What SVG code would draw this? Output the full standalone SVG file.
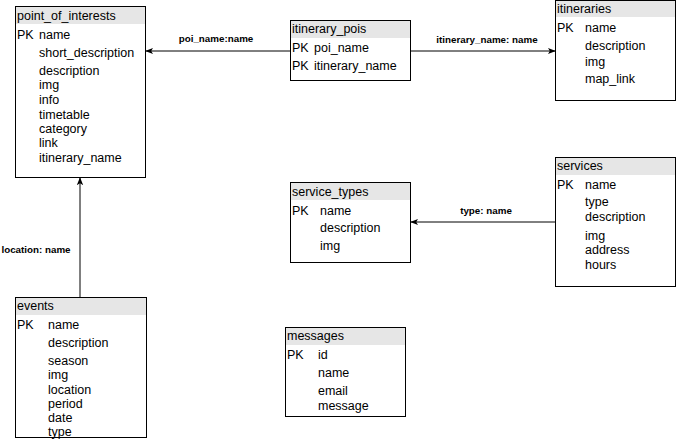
<svg xmlns="http://www.w3.org/2000/svg" width="676" height="448" viewBox="0 0 676 448">
  <style>
    text { font-family: "Liberation Sans", Arial, sans-serif; font-size: 12.5px; fill: #000; }
    .box { fill: #fff; stroke: #000; stroke-width: 1; }
    .head { fill: #e6e6e6; stroke: none; }
    .edge { fill: none; stroke: #000; stroke-width: 1; marker-end: url(#arrow); }
    .lbl { font-size: 9.8px; font-weight: bold; text-anchor: middle; }
  </style>
  <defs>
    <marker id="arrow" viewBox="0 0 10 10" refX="9" refY="5" markerWidth="8" markerHeight="8" markerUnits="userSpaceOnUse" orient="auto">
      <path d="M0,1 L10,5 L0,9 L2.5,5 Z" fill="#000"/>
    </marker>
  </defs>

  <g id="connectors">
    <path class="edge" d="M290,51 L146,51"/>
    <path class="edge" d="M411,51 L555,51"/>
    <path class="edge" d="M555,222 L411,222"/>
    <path class="edge" d="M80,297 L80,178"/>
    <text class="lbl" x="216" y="42">poi_name:name</text>
    <text class="lbl" x="487" y="43">itinerary_name: name</text>
    <text class="lbl" x="486" y="214">type: name</text>
    <text class="lbl" x="36" y="253">location: name</text>
  </g>

  <g id="point_of_interests">
    <rect class="box" x="15.5" y="6.5" width="130" height="171"/>
    <rect class="head" x="16" y="7" width="129" height="17"/>
    <text x="17" y="20">point_of_interests</text>
    <text x="17" y="39">PK</text>
    <text x="39" y="39">name</text>
    <text x="39" y="57">short_description</text>
    <text x="39" y="75">description</text>
    <text x="39" y="89">img</text>
    <text x="39" y="104">info</text>
    <text x="39" y="119">timetable</text>
    <text x="39" y="133">category</text>
    <text x="39" y="147">link</text>
    <text x="39" y="162">itinerary_name</text>
  </g>

  <g id="itinerary_pois">
    <rect class="box" x="290.5" y="20.5" width="120" height="60"/>
    <rect class="head" x="291" y="21" width="119" height="17"/>
    <text x="292" y="33">itinerary_pois</text>
    <text x="292" y="52">PK</text>
    <text x="314" y="52">poi_name</text>
    <text x="292" y="70">PK</text>
    <text x="314" y="70">itinerary_name</text>
  </g>

  <g id="itineraries">
    <rect class="box" x="555.5" y="0.5" width="120" height="100"/>
    <rect class="head" x="556" y="1" width="119" height="16"/>
    <text x="557" y="13">itineraries</text>
    <text x="557" y="32">PK</text>
    <text x="585" y="32">name</text>
    <text x="585" y="50">description</text>
    <text x="585" y="66">img</text>
    <text x="585" y="83">map_link</text>
  </g>

  <g id="service_types">
    <rect class="box" x="290.5" y="182.5" width="120" height="80"/>
    <rect class="head" x="291" y="183" width="119" height="17"/>
    <text x="292" y="196">service_types</text>
    <text x="292" y="215">PK</text>
    <text x="320" y="215">name</text>
    <text x="320" y="232">description</text>
    <text x="320" y="250">img</text>
  </g>

  <g id="services">
    <rect class="box" x="555.5" y="157.5" width="120" height="129"/>
    <rect class="head" x="556" y="158" width="119" height="17"/>
    <text x="557" y="170">services</text>
    <text x="557" y="189">PK</text>
    <text x="585" y="189">name</text>
    <text x="585" y="206">type</text>
    <text x="585" y="221">description</text>
    <text x="585" y="240">img</text>
    <text x="585" y="254">address</text>
    <text x="585" y="269">hours</text>
  </g>

  <g id="events">
    <rect class="box" x="15.5" y="297.5" width="131" height="140"/>
    <rect class="head" x="16" y="298" width="130" height="17"/>
    <text x="17" y="310">events</text>
    <text x="17" y="329">PK</text>
    <text x="48" y="329">name</text>
    <text x="48" y="347">description</text>
    <text x="48" y="365">season</text>
    <text x="48" y="379">img</text>
    <text x="48" y="394">location</text>
    <text x="48" y="408">period</text>
    <text x="48" y="422">date</text>
    <text x="48" y="435.5">type</text>
  </g>

  <g id="messages">
    <rect class="box" x="285.5" y="327.5" width="120" height="89"/>
    <rect class="head" x="286" y="328" width="119" height="17"/>
    <text x="287" y="340">messages</text>
    <text x="287" y="359">PK</text>
    <text x="318" y="359">id</text>
    <text x="318" y="377">name</text>
    <text x="318" y="395">email</text>
    <text x="318" y="410">message</text>
  </g>
</svg>
